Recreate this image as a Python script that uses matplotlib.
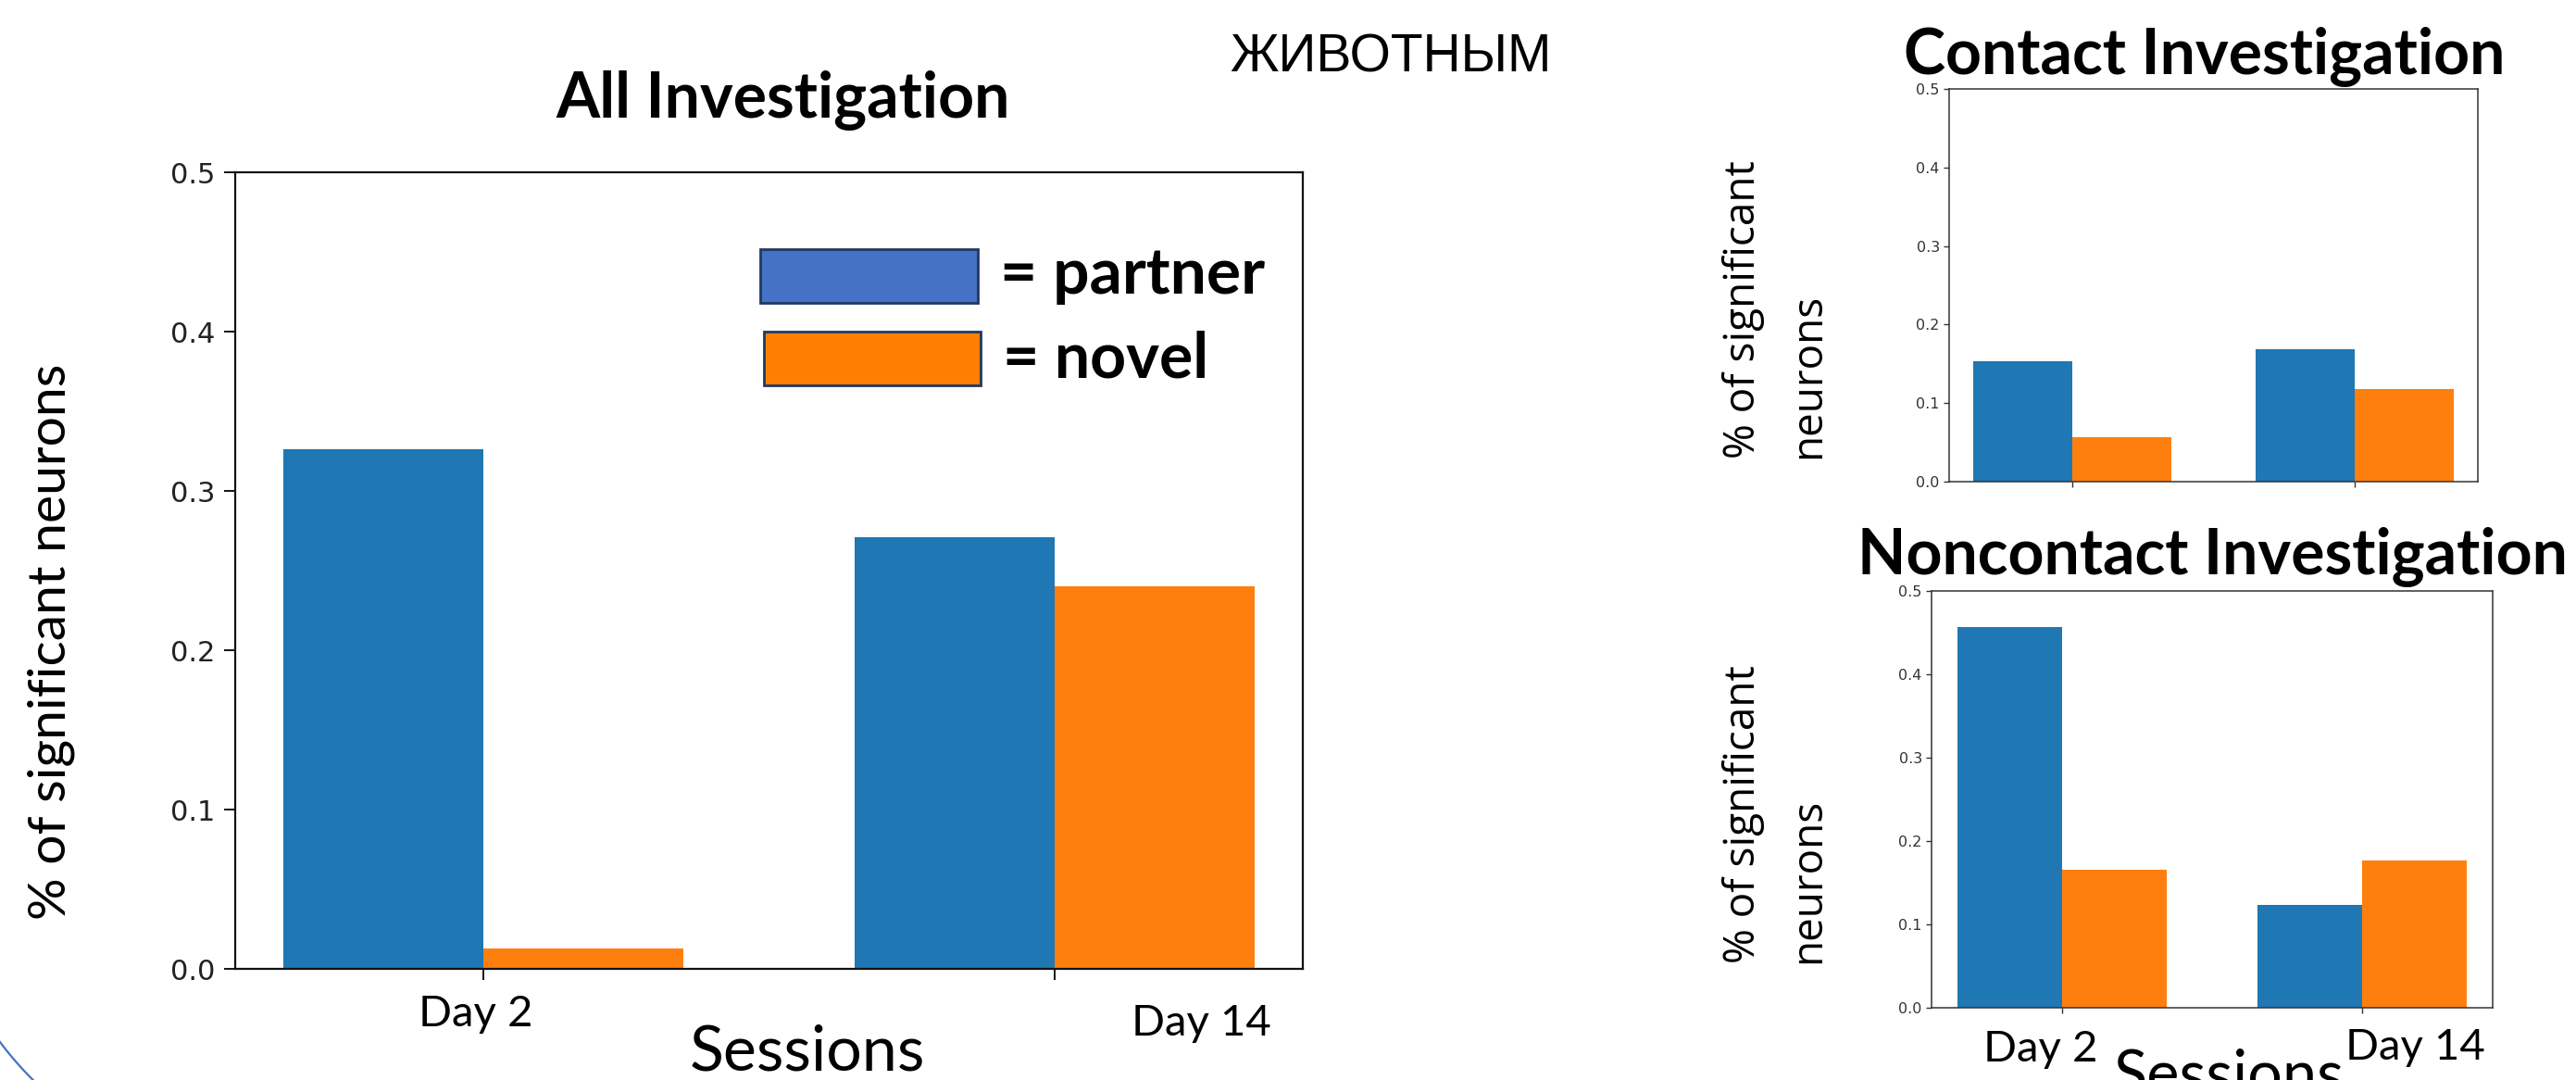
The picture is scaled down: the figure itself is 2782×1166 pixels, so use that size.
import matplotlib
matplotlib.use("Agg")
import matplotlib.pyplot as plt
from matplotlib.patches import Rectangle
from matplotlib.lines import Line2D
import numpy as np

# ---- data -------------------------------------------------------------
sessions = ["Day 2", "Day 14"]
groups = ["partner", "novel"]

all_partner = [0.326, 0.271]
all_novel = [0.013, 0.240]

contact_partner = [0.153, 0.169]
contact_novel = [0.057, 0.118]

noncontact_partner = [0.457, 0.123]
noncontact_novel = [0.166, 0.177]

y_ticks = [0.0, 0.1, 0.2, 0.3, 0.4, 0.5]

# ---- figure -----------------------------------------------------------
W, H = 2782, 1166
DPI = 100
fig = plt.figure(figsize=(W / DPI, H / DPI), dpi=DPI)
fig.patch.set_facecolor("white")

BLUE = "#1f77b4"
ORANGE = "#ff7f0e"
CAL = ["Lato", "DejaVu Sans"]


def fx(px):
    return px / W


def fy(py):
    return 1 - py / H


def ax_rect(left, top, right, bottom):
    return [fx(left), fy(bottom), (right - left) / W, (bottom - top) / H]


def grouped_bars(ax, partner, novel):
    x = np.arange(len(sessions))
    w = 0.35
    ax.bar(x - w / 2, partner, w, color=BLUE)
    ax.bar(x + w / 2, novel, w, color=ORANGE)
    ax.set_xticks(x)
    ax.set_xticklabels([])
    ax.set_ylim(0, 0.5)
    ax.set_yticks(y_ticks)
    ax.set_yticklabels([f"{t:.1f}" for t in y_ticks])


# main panel
ax_main = fig.add_axes(ax_rect(254, 186, 1407, 1046))
grouped_bars(ax_main, all_partner, all_novel)
for s in ax_main.spines.values():
    s.set_linewidth(1.6)
    s.set_color("#111111")
ax_main.tick_params(length=8.5, width=1.4, labelsize=22, pad=7,
                    colors="#111111", labelcolor="#222222")

# contact panel
ax_c = fig.add_axes(ax_rect(2105, 96, 2676, 520))
grouped_bars(ax_c, contact_partner, contact_novel)
# noncontact panel
ax_n = fig.add_axes(ax_rect(2086, 638, 2692, 1088))
grouped_bars(ax_n, noncontact_partner, noncontact_novel)
for a in (ax_c, ax_n):
    for s in a.spines.values():
        s.set_linewidth(1.1)
        s.set_color("#333333")
    a.tick_params(length=4.3, width=1.0, labelsize=11.5, pad=3,
                  colors="#333333", labelcolor="#333333")

# ---- titles and slide text ---------------------------------------------
fig.text(fx(846), fy(127), "All Investigation", family=CAL, weight="bold",
         fontsize=49, ha="center", va="baseline")
fig.text(fx(1502), fy(78), "ЖИВОТНЫМ",
         family=["Liberation Sans Narrow", "Liberation Sans", "DejaVu Sans"],
         fontsize=41, ha="center", va="baseline")
fig.text(fx(2381), fy(80), "Contact Investigation", family=CAL, weight="bold",
         fontsize=49, ha="center", va="baseline")
fig.text(fx(2006), fy(620), "Noncontact Investigation", family=CAL,
         weight="bold", fontsize=49, ha="left", va="baseline")

# legend swatches
edge = "#1f3864"
fig.add_artist(Rectangle((fx(821), fy(327)), (1056 - 821) / W,
                         (327 - 269) / H, transform=fig.transFigure,
                         facecolor="#4472c4", edgecolor=edge, lw=2))
fig.add_artist(Rectangle((fx(825), fy(416)), (1059 - 825) / W,
                         (416 - 358) / H, transform=fig.transFigure,
                         facecolor="#ff8000", edgecolor=edge, lw=2))
fig.text(fx(1080), fy(317), "= " + groups[0], family=CAL, weight="bold",
         fontsize=50, ha="left", va="baseline")
fig.text(fx(1083), fy(407), "= " + groups[1], family=CAL, weight="bold",
         fontsize=49, ha="left", va="baseline")

# axis labels
fig.text(fx(55), fy(693), "% of significant neurons", family=CAL,
         fontsize=41, rotation=90, ha="center", va="center")
for y_bottom in (495, 1040):
    fig.text(fx(1918), fy(y_bottom), "% of significant\nneurons",
             family=["Open Sans", "DejaVu Sans"], fontsize=33, rotation=90,
             ha="center", va="bottom", multialignment="left",
             linespacing=1.7)

# session labels
fig.text(fx(514), fy(1108), sessions[0], family=CAL, fontsize=34,
         ha="center", va="baseline")
fig.text(fx(1297), fy(1118), sessions[1], family=CAL, fontsize=34,
         ha="center", va="baseline")
fig.text(fx(872), fy(1155), "Sessions", family=CAL, fontsize=49,
         ha="center", va="baseline")
fig.text(fx(2204), fy(1146), sessions[0], family=CAL, fontsize=34,
         ha="center", va="baseline")
fig.text(fx(2608), fy(1144), sessions[1], family=CAL, fontsize=34,
         ha="center", va="baseline")
fig.text(fx(2407), fy(1181), "Sessions", family=CAL, fontsize=48,
         ha="center", va="baseline")

# decorative arc in the lower-left corner (a piece of a large circle)
theta = np.radians(np.linspace(212, 232, 40))
arc_x = 300 + 375 * np.cos(theta)
arc_y = 900 - 375 * np.sin(theta)
fig.add_artist(Line2D(fx(arc_x), fy(arc_y), transform=fig.transFigure,
                      color="#4472c4", lw=1.6))

fig.savefig("out.png", dpi=DPI, facecolor="white")
